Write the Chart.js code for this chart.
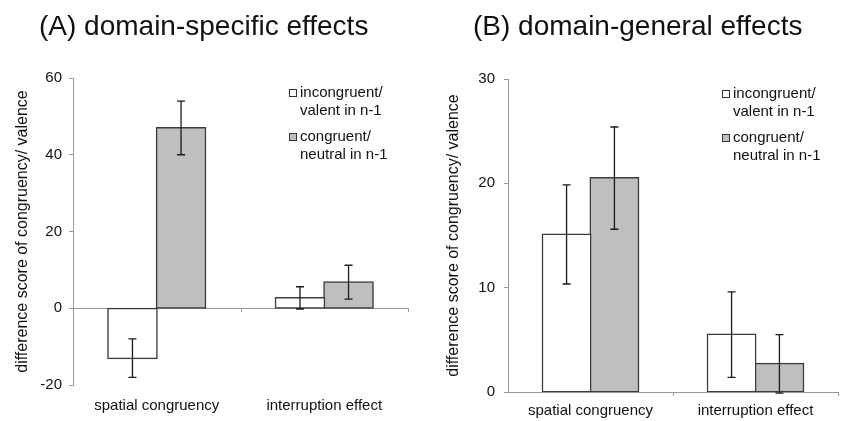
<!DOCTYPE html>
<html lang="en">

<head>
    <meta charset="UTF-8">
    <title>domain-specific and domain-general effects</title>
    <script src="https://cdn.jsdelivr.net/npm/chart.js"></script>
    <style>
        body {
            margin: 0;
            background-color: #ffffff;
            font-family: Arial, "Liberation Sans", sans-serif;
        }

        .panel {
            position: absolute;
            top: 0;
            width: 421px;
            height: 421px;
        }

        .panel-title {
            position: absolute;
            top: 12px;
            font-size: 28px;
            line-height: 28px;
            color: #111;
            white-space: pre;
        }
    </style>
</head>

<body>
    <div class="panel" style="left: 0;">
        <canvas id="chartA" width="421" height="421"></canvas>
    </div>
    <div class="panel" style="left: 421px;">
        <canvas id="chartB" width="421" height="421"></canvas>
    </div>
    <div class="panel-title" style="left: 39px;">(A) domain-specific effects</div>
    <div class="panel-title" style="left: 473px;">(B) domain-general effects</div>

    <script>
        const categories = ['spatial congruency', 'interruption effect'];
        const legendLabels = [['incongruent/', 'valent in n-1'], ['congruent/', 'neutral in n-1']];
        const yAxisTitle = 'difference score of congruency/ valence';

        // (A) domain-specific effects
        const aIncongruent = [-13, 2.7];
        const aIncongruentErr = [5, 2.9];
        const aCongruent = [47, 6.8];
        const aCongruentErr = [7, 4.4];
        const aTicks = [-20, 0, 20, 40, 60];

        // (B) domain-general effects
        const bIncongruent = [15.1, 5.5];
        const bIncongruentErr = [4.75, 4.1];
        const bCongruent = [20.5, 2.7];
        const bCongruentErr = [4.9, 2.8];
        const bTicks = [0, 10, 20, 30];

        const axisGrey = '#9a9a9a';
        const fontFamily = 'Arial, "Liberation Sans", sans-serif';

        // error bars, legend and the small x tick marks
        const extrasPlugin = {
            id: 'extras',
            afterDatasetsDraw(chart, args, opts) {
                const ctx = chart.ctx;
                const y = chart.scales.y;
                ctx.save();
                ctx.strokeStyle = '#1a1a1a';
                ctx.lineWidth = 1.3;
                chart.data.datasets.forEach((ds, di) => {
                    const meta = chart.getDatasetMeta(di);
                    meta.data.forEach((bar, i) => {
                        const v = ds.data[i];
                        const e = ds.errors[i];
                        const top = y.getPixelForValue(v + e);
                        const bottom = y.getPixelForValue(v - e);
                        ctx.beginPath();
                        ctx.moveTo(bar.x, top);
                        ctx.lineTo(bar.x, bottom);
                        ctx.moveTo(bar.x - 4, top);
                        ctx.lineTo(bar.x + 4, top);
                        ctx.moveTo(bar.x - 4, bottom);
                        ctx.lineTo(bar.x + 4, bottom);
                        ctx.stroke();
                    });
                });
                ctx.restore();
            },
            afterDraw(chart, args, opts) {
                const ctx = chart.ctx;
                const area = chart.chartArea;
                const x = chart.scales.x;
                const zero = chart.scales.y.getPixelForValue(0);
                ctx.save();
                // x tick marks at category boundaries
                ctx.strokeStyle = axisGrey;
                ctx.lineWidth = 1;
                const mid = (x.getPixelForTick(0) + x.getPixelForTick(1)) / 2;
                [mid, area.right].forEach(px => {
                    ctx.beginPath();
                    ctx.moveTo(Math.round(px) + 0.5, zero);
                    ctx.lineTo(Math.round(px) + 0.5, zero + 4);
                    ctx.stroke();
                });
                // legend
                ctx.font = '15px ' + fontFamily;
                ctx.fillStyle = '#111';
                ctx.textBaseline = 'middle';
                const lx = area.right - opts.offsetRight;
                const rows = [[15, 33], [59, 77]];
                chart.data.datasets.forEach((ds, di) => {
                    const r = rows[di];
                    ctx.fillStyle = ds.backgroundColor;
                    ctx.strokeStyle = '#333';
                    ctx.lineWidth = 1;
                    ctx.fillRect(lx - 10.5, area.top + r[0] - 3.5, 7, 7);
                    ctx.strokeRect(lx - 10.5, area.top + r[0] - 3.5, 7, 7);
                    ctx.fillStyle = '#111';
                    ds.legendText.forEach((t, li) => {
                        ctx.fillText(t, lx, area.top + r[li]);
                    });
                });
                ctx.restore();
            }
        };

        function renderChart(id, incongruent, incongruentErr, congruent, congruentErr, ticks, layout) {
            const ctx = document.getElementById(id).getContext('2d');
            new Chart(ctx, {
                type: 'bar',
                data: {
                    labels: categories,
                    datasets: [{
                        label: legendLabels[0].join(' '),
                        legendText: legendLabels[0],
                        data: incongruent,
                        errors: incongruentErr,
                        backgroundColor: '#ffffff',
                        borderColor: '#3c3c3c',
                        borderWidth: 1.5,
                        borderSkipped: false,
                        inflateAmount: 1
                    }, {
                        label: legendLabels[1].join(' '),
                        legendText: legendLabels[1],
                        data: congruent,
                        errors: congruentErr,
                        backgroundColor: '#bfbfbf',
                        borderColor: '#3c3c3c',
                        borderWidth: 1.5,
                        borderSkipped: false,
                        inflateAmount: 1
                    }]
                },
                options: {
                    responsive: false,
                    animation: false,
                    layout: {
                        padding: { top: layout.top, right: layout.right, left: 0, bottom: 0 }
                    },
                    datasets: {
                        bar: { categoryPercentage: 0.58, barPercentage: 1.0 }
                    },
                    plugins: {
                        legend: { display: false },
                        tooltip: { enabled: false },
                        extras: { offsetRight: layout.legendRight }
                    },
                    scales: {
                        x: {
                            grid: { display: false, drawTicks: false },
                            border: { display: false },
                            ticks: {
                                color: '#111',
                                padding: layout.xPad,
                                font: { size: 15, family: fontFamily }
                            },
                            afterFit(scale) { scale.height = layout.xHeight; }
                        },
                        y: {
                            min: ticks[0],
                            max: ticks[ticks.length - 1],
                            afterBuildTicks(scale) { scale.ticks = ticks.map(v => ({ value: v })); },
                            border: { display: true, color: axisGrey, width: 1 },
                            grid: {
                                color: c => (c.tick && c.tick.value === 0) ? axisGrey : 'transparent',
                                tickColor: axisGrey,
                                tickLength: 4
                            },
                            ticks: {
                                color: '#111',
                                padding: layout.yPad,
                                font: { size: 15, family: fontFamily }
                            },
                            title: {
                                display: true,
                                text: yAxisTitle,
                                color: '#111',
                                padding: { top: layout.titlePad, bottom: 0 },
                                font: { size: 16, family: fontFamily }
                            },
                            afterFit(scale) { scale.width = layout.yWidth; }
                        }
                    }
                },
                plugins: [extrasPlugin]
            });
        }

        document.addEventListener('DOMContentLoaded', () => {
            renderChart('chartA', aIncongruent, aIncongruentErr, aCongruent, aCongruentErr, aTicks,
                { top: 78, right: 13, yWidth: 73, xHeight: 36, xPad: 12, yPad: 7, titlePad: 13, legendRight: 108 });
            renderChart('chartB', bIncongruent, bIncongruentErr, bCongruent, bCongruentErr, bTicks,
                { top: 79, right: 4, yWidth: 87, xHeight: 29, xPad: 10, yPad: 9, titlePad: 23, legendRight: 105 });
        });
    </script>
</body>

</html>
